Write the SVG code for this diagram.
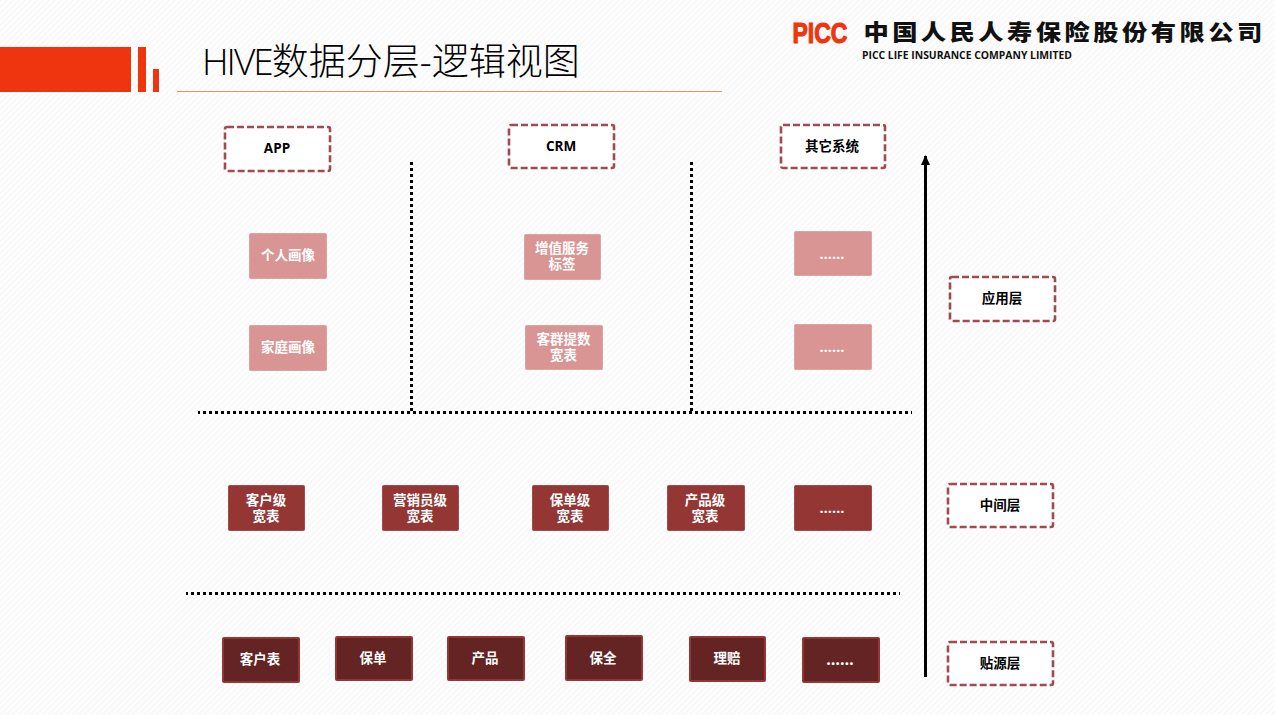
<svg xmlns="http://www.w3.org/2000/svg" width="1275" height="715" viewBox="0 0 1275 715">
<style>
text{font-family:"Open Sans","Noto Sans CJK SC",sans-serif;font-weight:700;text-anchor:middle}
.l{font-size:13.500px;fill:#fff}
.e{font-size:14.500px;fill:#fff}
.d{fill:#fff;stroke:#a24a4f;stroke-width:2.600;stroke-dasharray:7 3}
.dt{font-size:13.500px;fill:#000}
.p rect{fill:#d99594;stroke:#dfa3a3;stroke-width:1}
.m rect{fill:#943634;stroke:#a24a4f;stroke-width:1}
.s rect{fill:#632423;stroke:#943634;stroke-width:2}
.c line{stroke:#000;stroke-width:3;stroke-dasharray:3 3;fill:none}
</style>
<defs>
<pattern id="bg" width="4.240" height="4.240" patternUnits="userSpaceOnUse" patternTransform="rotate(-45)">
<rect width="4.240" height="4.240" fill="#fff"/><rect width="4.240" height="2" fill="#f8f8f8"/>
</pattern>
<marker id="ah" markerWidth="10" markerHeight="9" refX="9" refY="4.500" orient="auto" markerUnits="userSpaceOnUse"><path d="M0 0L10 4.500L0 9Z" fill="#000"/></marker>
</defs>
<rect width="1275" height="715" fill="url(#bg)"/>

<g id="banner">
<rect x="0" y="47" width="131" height="45" fill="#ee350f"/>
<rect x="138" y="47" width="8" height="45" fill="#ee350f"/>
<rect x="153" y="69" width="6" height="23" fill="#ee350f"/>
</g>
<g id="title">
<text x="202" y="75" style="font-weight:300;font-size:37px;text-anchor:start"><tspan letter-spacing="-2">HIVE</tspan>数据分层-逻辑视图</text>
<line x1="177" y1="91.500" x2="722" y2="91.500" stroke="#e8965f" stroke-width="1"/>
</g>
<g id="logo">
<text x="820" y="43" style="font-family:'Liberation Sans',sans-serif;font-size:29px;font-weight:700;fill:#ee350f;stroke:#ee350f;stroke-width:1.200" textLength="55" lengthAdjust="spacingAndGlyphs">PICC</text>
<text transform="translate(1064.500 40) scale(1.150 1)" style="font-size:22px;font-weight:900;letter-spacing:3px" fill="#111">中国人民人寿保险股份有限公司</text>
<text x="967" y="59" style="font-size:10.500px;font-weight:700" textLength="210" lengthAdjust="spacingAndGlyphs" fill="#111">PICC LIFE INSURANCE COMPANY LIMITED</text>
</g>

<g id="connectors" class="c">
<line x1="411.500" y1="162" x2="411.500" y2="412"/>
<line x1="691.500" y1="162" x2="691.500" y2="412"/>
<line x1="198" y1="412.500" x2="912" y2="412.500" style="stroke-dashoffset:1"/>
<line x1="186" y1="593.500" x2="900" y2="593.500" style="stroke-dashoffset:1"/>
<line x1="925.500" y1="677" x2="925.500" y2="156" style="stroke-dasharray:none" marker-end="url(#ah)"/>
</g>

<g id="app"><rect class="d" x="225" y="127" width="105" height="44" rx="2"/><text class="dt" x="277" y="153">APP</text></g>
<g id="crm"><rect class="d" x="509" y="125" width="105" height="43" rx="2"/><text class="dt" x="561" y="151">CRM</text></g>
<g id="other"><rect class="d" x="781" y="125" width="104" height="43" rx="2"/><text class="dt" x="832" y="151">其它系统</text></g>
<g id="layer-app"><rect class="d" x="950" y="277" width="105" height="44" rx="2"/><text class="dt" x="1002" y="303">应用层</text></g>
<g id="layer-mid"><rect class="d" x="948" y="484" width="105" height="43" rx="2"/><text class="dt" x="1000" y="510">中间层</text></g>
<g id="layer-src"><rect class="d" x="948" y="642" width="105" height="43" rx="2"/><text class="dt" x="1000" y="668">贴源层</text></g>

<g id="p1" class="p"><rect x="249.500" y="233.500" width="77" height="45" rx="1"/><text class="l" x="288" y="260">个人画像</text></g>
<g id="p2" class="p"><rect x="249.500" y="325.500" width="77" height="45" rx="1"/><text class="l" x="288" y="352">家庭画像</text></g>
<g id="p3" class="p"><rect x="524.500" y="234.500" width="76" height="45" rx="1"/><text class="l" x="562" y="253">增值服务</text><text class="l" x="562" y="269">标签</text></g>
<g id="p4" class="p"><rect x="525.500" y="325.500" width="77" height="44" rx="1"/><text class="l" x="563.500" y="344">客群提数</text><text class="l" x="563.500" y="360">宽表</text></g>
<g id="p5" class="p"><rect x="794.500" y="231.500" width="77" height="44" rx="1"/><text class="e" x="832" y="259">……</text></g>
<g id="p6" class="p"><rect x="794.500" y="324.500" width="77" height="45" rx="1"/><text class="e" x="832" y="352">……</text></g>

<g id="m1" class="m"><rect x="228.500" y="485.500" width="76" height="45" rx="1"/><text class="l" x="266" y="505">客户级</text><text class="l" x="266" y="521">宽表</text></g>
<g id="m2" class="m"><rect x="382.500" y="485.500" width="76" height="45" rx="1"/><text class="l" x="420" y="505">营销员级</text><text class="l" x="420" y="521">宽表</text></g>
<g id="m3" class="m"><rect x="532.500" y="485.500" width="76" height="45" rx="1"/><text class="l" x="570" y="505">保单级</text><text class="l" x="570" y="521">宽表</text></g>
<g id="m4" class="m"><rect x="667.500" y="485.500" width="77" height="45" rx="1"/><text class="l" x="705" y="505">产品级</text><text class="l" x="705" y="521">宽表</text></g>
<g id="m5" class="m"><rect x="794.500" y="485.500" width="77" height="45" rx="1"/><text class="e" x="832" y="513">……</text></g>

<g id="s1" class="s"><rect x="223" y="638" width="76" height="44" rx="1"/><text class="l" x="260" y="664">客户表</text></g>
<g id="s2" class="s"><rect x="336" y="637" width="76" height="43" rx="1"/><text class="l" x="373" y="663">保单</text></g>
<g id="s3" class="s"><rect x="448" y="637" width="76" height="43" rx="1"/><text class="l" x="485" y="663">产品</text></g>
<g id="s4" class="s"><rect x="566" y="636" width="76" height="44" rx="1"/><text class="l" x="603" y="663">保全</text></g>
<g id="s5" class="s"><rect x="690" y="637" width="75" height="44" rx="1"/><text class="l" x="727" y="663">理赔</text></g>
<g id="s6" class="s"><rect x="803" y="638" width="76" height="44" rx="1"/><text class="e" x="840" y="665" style="font-size:16px">……</text></g>
</svg>
